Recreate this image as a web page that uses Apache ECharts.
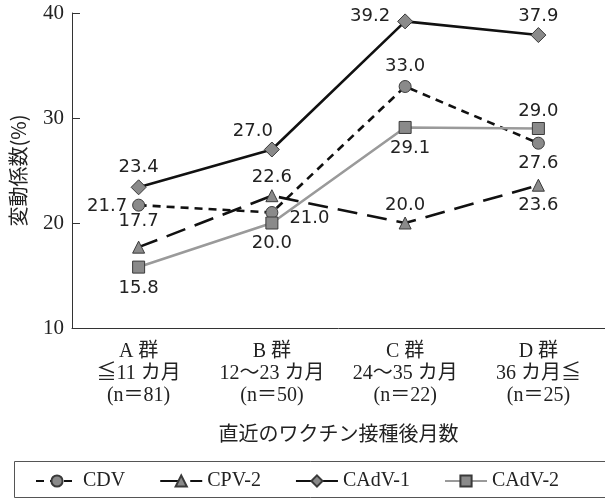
<!DOCTYPE html>
<html>
<head>
<meta charset="utf-8">
<script src="https://cdn.jsdelivr.net/npm/echarts@6/dist/echarts.min.js"></script>
<style>
  html, body { margin: 0; padding: 0; background: #fff; }
  #chart { width: 605px; height: 499px; }
</style>
</head>
<body>
<div id="chart"></div>
<script>
// Vaccination groups (months since the latest vaccination)
const groups = [
  'A 群\n≦11 カ月\n(n＝81)',
  'B 群\n12〜23 カ月\n(n＝50)',
  'C 群\n24〜35 カ月\n(n＝22)',
  'D 群\n36 カ月≦\n(n＝25)'
];

// Coefficient of variation (%) for each antibody
const cdv   = [21.7, 21.0, 33.0, 27.6];
const cpv2  = [17.7, 22.6, 20.0, 23.6];
const cadv1 = [23.4, 27.0, 39.2, 37.9];
const cadv2 = [15.8, 20.0, 29.1, 29.0];

const yTicks = [10, 20, 30, 40];

// Where each value label sits relative to its marker
const labelPlacement = {
  CDV:      [['left', [0, 1]], ['right', [6, 6]], ['top', [0, 0]], ['bottom', [0, 0]]],
  'CPV-2':  [['top', [0, -5]], ['top', [0, 2]], ['top', [0, 3]], ['bottom', [0, 0]]],
  'CAdV-1': [['top', [0, 2]], ['top', [-19, 4]], ['left', [-2, -5]], ['top', [0, 3]]],
  'CAdV-2': [['bottom', [0, 1]], ['bottom', [0, 0]], ['bottom', [5, 0]], ['top', [0, 3]]]
};

const serif = "'Liberation Serif', 'Noto Sans CJK JP', serif";
const cjk = "'Noto Sans CJK JP', sans-serif";
const ink = '#222';
const markerFill = '#8a8a8a';
const markerEdge = '#3a3a3a';

function makeSeries(name, values, symbol, symbolSize, lineColor, lineType, lineWidth) {
  return {
    name: name,
    type: 'line',
    symbol: symbol,
    symbolSize: symbolSize,
    z: 3,
    lineStyle: { color: lineColor, type: lineType, width: lineWidth },
    itemStyle: { color: markerFill, borderColor: markerEdge, borderWidth: 1 },
    data: values.map(function (v, i) {
      const p = labelPlacement[name][i];
      return {
        value: v,
        label: {
          show: true,
          position: p[0],
          offset: p[1],
          distance: 5,
          formatter: function (d) { return d.value.toFixed(1); },
          fontFamily: "'DejaVu Sans', sans-serif",
          fontSize: 18,
          color: ink
        }
      };
    }),
    emphasis: { disabled: true },
    animation: false
  };
}

const chart = echarts.init(document.getElementById('chart'), null, { renderer: 'canvas' });

chart.setOption({
  backgroundColor: '#fff',
  animation: false,
  grid: { left: 71, top: 13, right: -3, bottom: 171, containLabel: false },
  xAxis: {
    type: 'category',
    data: groups,
    boundaryGap: true,
    name: '直近のワクチン接種後月数',
    nameLocation: 'middle',
    nameGap: 95,
    nameTextStyle: { fontFamily: cjk, fontSize: 20, color: ink },
    axisLine: { lineStyle: { color: '#333', width: 1 } },
    axisTick: { alignWithLabel: true, inside: true, length: 7, lineStyle: { color: '#333' } },
    axisLabel: {
      interval: 0,
      margin: 13,
      fontFamily: serif,
      fontSize: 20,
      lineHeight: 22,
      color: ink,
      align: 'center'
    },
    splitLine: { show: false }
  },
  yAxis: {
    type: 'value',
    min: yTicks[0],
    max: yTicks[yTicks.length - 1],
    interval: 10,
    name: '変動係数(%)',
    nameLocation: 'middle',
    nameGap: 44,
    nameTextStyle: { fontFamily: cjk, fontSize: 20, color: ink },
    axisLine: { show: true, lineStyle: { color: '#333', width: 1 } },
    axisTick: { show: true, inside: true, length: 8, lineStyle: { color: '#333' } },
    axisLabel: { margin: 8, fontFamily: serif, fontSize: 21, color: ink },
    splitLine: { show: false }
  },
  legend: {
    left: 35,
    top: 471,
    padding: 0,
    itemWidth: 42,
    itemHeight: 14,
    itemGap: 34,
    textStyle: { fontFamily: serif, fontSize: 20, color: ink },
    data: ['CDV', 'CPV-2', 'CAdV-1', 'CAdV-2']
  },
  graphic: [{
    type: 'rect',
    silent: true,
    shape: { x: 14.5, y: 461.5, width: 600, height: 36 },
    style: { fill: 'none', stroke: '#555', lineWidth: 1 }
  }],
  series: [
    makeSeries('CDV', cdv, 'circle', 12, '#111', [8, 6], 2.6),
    makeSeries('CPV-2', cpv2, 'triangle', 12, '#111', [20, 10], 2.6),
    makeSeries('CAdV-1', cadv1, 'diamond', 15, '#111', 'solid', 2.6),
    makeSeries('CAdV-2', cadv2, 'rect', 12, '#9a9a9a', 'solid', 2.6)
  ]
});
</script>
</body>
</html>
